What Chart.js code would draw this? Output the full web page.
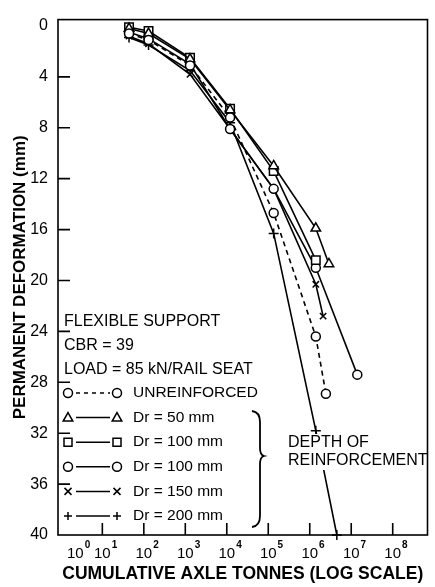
<!DOCTYPE html>
<html>
<head>
<meta charset="utf-8">
<script src="https://cdn.jsdelivr.net/npm/chart.js@4.4.1/dist/chart.umd.min.js"></script>
<style>
  body { margin: 0; background: #fff; }
</style>
</head>
<body>
<canvas id="chart" width="435" height="587"></canvas>
<script>
const FONT = "'Liberation Sans', Arial, 'DejaVu Sans', sans-serif";

// values: cumulative axle tonnes / deformation in mm
const unreinfX = [44, 130, 1300, 12000, 135000, 1400000, 2450000];
const unreinfY = [0.6, 1.1, 3.1, 7.2, 14.7, 24.4, 28.9];
const dr50X = [44, 130, 1300, 12000, 135000, 1400000, 2900000];
const dr50Y = [0.2, 0.6, 2.6, 6.6, 11.0, 15.9, 18.7];
const dr100sqX = [44, 130, 1300, 12000, 135000, 1400000];
const dr100sqY = [0.1, 0.4, 2.5, 6.5, 11.4, 18.4];
const dr100ciX = [44, 130, 1300, 12000, 135000, 1400000, 14000000];
const dr100ciY = [0.5, 1.0, 3.0, 8.1, 12.8, 19.0, 27.4];
const dr150X = [44, 130, 1300, 12000, 135000, 1400000, 2100000];
const dr150Y = [0.8, 1.4, 3.8, 8.1, 12.8, 20.3, 22.8];
const dr200X = [44, 130, 1300, 12000, 135000, 1400000, 4500000];
const dr200Y = [0.9, 1.5, 3.5, 7.6, 16.3, 31.8, 40];

const yTicks = [0, 4, 8, 12, 16, 20, 24, 28, 32, 36, 40];
const xTicks = [1, 10, 100, 1e3, 1e4, 1e5, 1e6, 1e7, 1e8];
const xTickExp = ['0', '1', '2', '3', '4', '5', '6', '7', '8'];

const notes = ['FLEXIBLE SUPPORT', 'CBR = 39', 'LOAD = 85 kN/RAIL SEAT'];
const legendItems = [
  { label: 'UNREINFORCED', style: 'circle', dash: [4, 4] },
  { label: 'Dr = 50 mm', style: 'triangle' },
  { label: 'Dr = 100 mm', style: 'rect' },
  { label: 'Dr = 100 mm', style: 'circle' },
  { label: 'Dr = 150 mm', style: 'crossRot' },
  { label: 'Dr = 200 mm', style: 'cross' },
];

function series(xs, ys, style, radius, dash) {
  return {
    data: xs.map((v, i) => ({ x: v, y: ys[i] })),
    borderColor: '#000',
    borderWidth: 1.6,
    borderDash: dash || [],
    pointStyle: style,
    pointRadius: radius,
    pointBackgroundColor: '#fff',
    pointBorderColor: '#000',
    pointBorderWidth: 1.5,
    tension: 0,
    clip: false,
  };
}

// 凡例用の記号
function marker(ctx, style, x, y) {
  ctx.beginPath();
  if (style === 'circle') {
    ctx.arc(x, y, 4.5, 0, Math.PI * 2);
    ctx.fill();
    ctx.stroke();
  } else if (style === 'triangle') {
    ctx.moveTo(x, y - 5);
    ctx.lineTo(x + 4.8, y + 3.5);
    ctx.lineTo(x - 4.8, y + 3.5);
    ctx.closePath();
    ctx.fill();
    ctx.stroke();
  } else if (style === 'rect') {
    ctx.rect(x - 4, y - 4, 8, 8);
    ctx.fill();
    ctx.stroke();
  } else if (style === 'crossRot') {
    ctx.moveTo(x - 3.5, y - 3.5); ctx.lineTo(x + 3.5, y + 3.5);
    ctx.moveTo(x + 3.5, y - 3.5); ctx.lineTo(x - 3.5, y + 3.5);
    ctx.stroke();
  } else {
    ctx.moveTo(x - 4, y); ctx.lineTo(x + 4, y);
    ctx.moveTo(x, y - 4); ctx.lineTo(x, y + 4);
    ctx.stroke();
  }
}

const annotations = {
  id: 'annotations',
  afterDatasetsDraw(chart) {
    const { ctx, chartArea: a } = chart;
    ctx.save();
    ctx.fillStyle = '#000';
    ctx.textBaseline = 'middle';
    ctx.font = '16px ' + FONT;
    notes.forEach((t, i) => ctx.fillText(t, a.left + 6, 322 + i * 24));

    ctx.font = '15.5px ' + FONT;
    legendItems.forEach((item, i) => {
      const yy = 393 + i * 24.6;
      ctx.strokeStyle = '#000';
      ctx.lineWidth = 1.5;
      ctx.setLineDash(item.dash || []);
      ctx.beginPath();
      ctx.moveTo(76, yy);
      ctx.lineTo(110, yy);
      ctx.stroke();
      ctx.setLineDash([]);
      ctx.fillStyle = '#fff';
      marker(ctx, item.style, 68, yy);
      marker(ctx, item.style, 117, yy);
      ctx.fillStyle = '#000';
      ctx.fillText(item.label, 133, yy);
    });

    // brace
    ctx.lineWidth = 1.8;
    ctx.beginPath();
    ctx.moveTo(252, 411);
    ctx.quadraticCurveTo(260, 412, 260, 422);
    ctx.lineTo(260, 448);
    ctx.quadraticCurveTo(260, 455, 264, 456);
    ctx.quadraticCurveTo(260, 457, 260, 464);
    ctx.lineTo(260, 516);
    ctx.quadraticCurveTo(260, 526, 252, 527);
    ctx.stroke();

    ctx.font = '16px ' + FONT;
    const lines = ['DEPTH OF', 'REINFORCEMENT'];
    lines.forEach((t, i) => {
      const w = ctx.measureText(t).width;
      const yy = 443 + i * 18;
      ctx.fillStyle = '#fff';
      ctx.fillRect(286, yy - 9, w + 4, 18);
      ctx.fillStyle = '#000';
      ctx.fillText(t, 288, yy);
    });
    ctx.restore();
  },
  afterDraw(chart) {
    const { ctx, chartArea: a, scales: { x, y } } = chart;
    ctx.save();
    ctx.strokeStyle = '#000';
    ctx.lineWidth = 1.6;
    ctx.strokeRect(a.left, a.top, a.right - a.left, a.bottom - a.top);
    ctx.beginPath();
    yTicks.slice(1, -1).forEach(v => {
      const p = y.getPixelForValue(v);
      ctx.moveTo(a.left, p);
      ctx.lineTo(a.left + 12, p);
    });
    xTicks.slice(1).forEach(v => {
      const p = x.getPixelForValue(v);
      ctx.moveTo(p, a.bottom);
      ctx.lineTo(p, a.bottom - 12);
    });
    ctx.stroke();

    // x tick labels with superscript exponents
    ctx.fillStyle = '#000';
    ctx.textBaseline = 'middle';
    xTicks.forEach((v, i) => {
      ctx.font = '15px ' + FONT;
      const w = ctx.measureText('10').width;
      let cx = x.getPixelForValue(v);
      let left = Math.max(cx - w / 2, a.left + 9);
      ctx.fillText('10', left, 554);
      ctx.font = 'bold 10px ' + FONT;
      ctx.fillText(xTickExp[i], left + w + 1, 545);
    });
    ctx.restore();
  },
};

new Chart(document.getElementById('chart'), {
  type: 'line',
  data: {
    datasets: [
      series(unreinfX, unreinfY, 'circle', 4.5, [5, 4]),
      series(dr50X, dr50Y, 'triangle', 5.5),
      series(dr100sqX, dr100sqY, 'rect', 6),
      series(dr100ciX, dr100ciY, 'circle', 4.5),
      series(dr150X, dr150Y, 'crossRot', 4.5),
      series(dr200X, dr200Y, 'cross', 5),
    ],
  },
  options: {
    responsive: false,
    animation: false,
    layout: { padding: { left: 10, top: 11, right: 2, bottom: 2 } },
    plugins: { legend: { display: false }, tooltip: { enabled: false } },
    scales: {
      x: {
        type: 'logarithmic',
        min: 0.853,
        max: 6.9e8,
        afterFit: s => { s.height = 50; },
        afterBuildTicks: s => { s.ticks = xTicks.map(v => ({ value: v })); },
        grid: { display: false, drawTicks: false },
        border: { display: false },
        ticks: { display: false },
        title: {
          display: true,
          text: 'CUMULATIVE AXLE TONNES (LOG SCALE)',
          color: '#000',
          padding: 0,
          font: { family: FONT, size: 17.5, weight: 'bold' },
        },
      },
      y: {
        reverse: true,
        min: -0.5,
        max: 40,
        afterFit: s => { s.width = 48; },
        afterBuildTicks: s => { s.ticks = yTicks.map(v => ({ value: v })); },
        grid: { display: false, drawTicks: false },
        border: { display: false },
        ticks: {
          padding: 10,
          color: '#000',
          font: { family: FONT, size: 16 },
        },
        title: {
          display: true,
          text: 'PERMANENT DEFORMATION (mm)',
          color: '#000',
          padding: 0,
          font: { family: FONT, size: 17, weight: 'bold' },
        },
      },
    },
  },
  plugins: [annotations],
});
</script>
</body>
</html>
